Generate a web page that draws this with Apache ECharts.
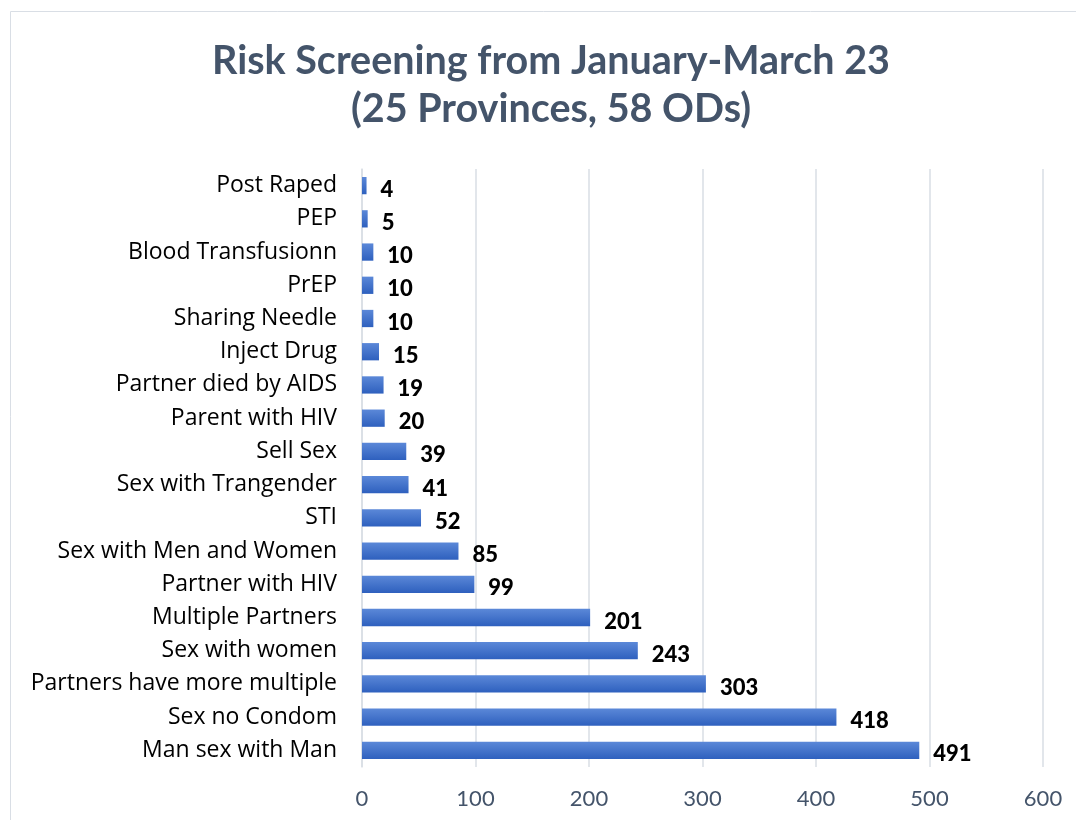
<!DOCTYPE html>
<html>
<head>
<meta charset="utf-8">
<script src="https://cdn.jsdelivr.net/npm/echarts@6/dist/echarts.min.js"></script>
<style>
  html, body { margin: 0; padding: 0; background: #fff; }
  #chart-container { width: 1076px; height: 820px; }
</style>
</head>
<body>
<div id="chart-container"></div>
<script>
// categories bottom to top
var categories = [
    'Man sex with Man', 'Sex no Condom', 'Partners have more multiple',
    'Sex with women', 'Multiple Partners', 'Partner with HIV',
    'Sex with Men and Women', 'STI', 'Sex with Trangender', 'Sell Sex',
    'Parent with HIV', 'Partner died by AIDS', 'Inject Drug',
    'Sharing Needle', 'PrEP', 'Blood Transfusionn', 'PEP', 'Post Raped'
];
var values = [491, 418, 303, 243, 201, 99, 85, 52, 41, 39, 20, 19, 15, 10, 10, 10, 5, 4];
var titleLines = ['Risk Screening from January-March 23', '(25 Provinces, 58 ODs)'];

var myChart = echarts.init(document.getElementById('chart-container'));

var fontFam = 'Lato, "Open Sans", sans-serif';
var catFont = '"Open Sans", Lato, sans-serif';

var option = {
    animation: false,
    title: {
        text: titleLines.join('\n'),
        left: 546,
        textAlign: 'center',
        top: 32,
        textStyle: {
            fontFamily: fontFam,
            fontSize: 39.5,
            fontWeight: 'bold',
            color: '#44546A',
            lineHeight: 48
        }
    },
    graphic: [{
        type: 'rect',
        shape: { x: 10.5, y: 11.5, width: 1100, height: 900 },
        style: { fill: 'none', stroke: '#D9DEE5', lineWidth: 1 },
        silent: true
    }],
    grid: {
        left: 362,
        right: 33,
        top: 169,
        bottom: 53
    },
    xAxis: {
        type: 'value',
        min: 0,
        max: 600,
        interval: 100,
        axisLine: { show: false },
        axisTick: { show: false },
        axisLabel: {
            fontFamily: fontFam,
            fontSize: 22,
            color: '#44546A',
            margin: 21
        },
        splitLine: { lineStyle: { color: '#D9DEE5', width: 1.5 } }
    },
    yAxis: {
        type: 'category',
        data: categories,
        axisLine: { show: true, lineStyle: { color: '#D9DEE5', width: 1.5 } },
        axisTick: { show: false },
        axisLabel: {
            fontFamily: catFont,
            fontSize: 23,
            color: '#000',
            margin: 25,
            padding: [12, 0, 0, 0]
        }
    },
    series: [{
        type: 'bar',
        data: values,
        barCategoryGap: '48%',
        itemStyle: {
            color: new echarts.graphic.LinearGradient(0, 0, 0, 1, [
                { offset: 0, color: '#5B88D8' },
                { offset: 1, color: '#2E60BE' }
            ])
        },
        label: {
            show: true,
            position: 'right',
            distance: 14,
            offset: [0, 4],
            fontFamily: fontFam,
            fontSize: 22,
            fontWeight: 900,
            color: '#000'
        }
    }]
};

myChart.setOption(option);
</script>
</body>
</html>
